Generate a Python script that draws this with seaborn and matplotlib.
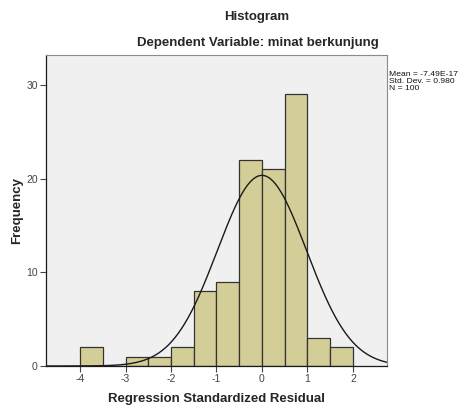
import numpy as np
import pandas as pd
import matplotlib
matplotlib.use('Agg')
import matplotlib.pyplot as plt
import seaborn as sns

# histogram counts (bin width 0.5)
bin_edges = [-4.0, -3.5, -3.0, -2.5, -2.0, -1.5, -1.0, -0.5, 0.0, 0.5, 1.0, 1.5, 2.0]
counts = [2, 0, 1, 1, 2, 8, 9, 22, 21, 29, 3, 2]
x_ticks = [-4, -3, -2, -1, 0, 1, 2]
y_ticks = [0, 10, 20, 30]
mean_val = -7.49e-17
std_val = 0.980
n_obs = 100

sns.set_theme(style='white')
plt.rcParams['font.family'] = ['Liberation Sans', 'DejaVu Sans']

df = pd.DataFrame({
    'mid': [(a + b) / 2 for a, b in zip(bin_edges[:-1], bin_edges[1:])],
    'n': counts,
})

fig = plt.figure(figsize=(4.59, 4.05), dpi=100)
ax = fig.add_axes([0.1002, 0.0963, 0.7429, 0.7677])
ax.set_facecolor('#F0F0F0')

sns.histplot(data=df, x='mid', weights='n', bins=bin_edges, ax=ax,
             color='#D3CE97', alpha=1, edgecolor='#333333', linewidth=0.9)

# normal curve scaled to counts
xs = np.linspace(-4.75, 2.75, 300)
width = 0.5
ys = n_obs * width * np.exp(-0.5 * ((xs - mean_val) / std_val) ** 2) / (std_val * np.sqrt(2 * np.pi))
sns.lineplot(x=xs, y=ys, ax=ax, color='#1a1a1a', linewidth=1.0)

ax.set_xlim(-4.75, 2.75)
ax.set_ylim(0, 33.2)
ax.set_xticks(x_ticks)
ax.set_xticklabels([str(t) for t in x_ticks])
ax.set_yticks(y_ticks)
ax.tick_params(axis='both', direction='out', length=4, width=0.8, colors='#444444',
               labelsize=7.5, pad=2, bottom=True, left=True)

for side in ['top', 'right']:
    ax.spines[side].set_color('#8a8a8a')
    ax.spines[side].set_linewidth(0.8)
for side in ['left', 'bottom']:
    ax.spines[side].set_color('#1a1a1a')
    ax.spines[side].set_linewidth(0.9)

ax.set_xlabel('Regression Standardized Residual', fontsize=9.5, fontweight='bold', labelpad=6)
ax.set_ylabel('Frequency', fontsize=9.5, fontweight='bold', labelpad=2)

fig.text(0.56, 1 - 17 / 405, 'Histogram', ha='center', va='center', fontsize=9.5, fontweight='bold')
fig.text(0.561, 1 - 43 / 405, 'Dependent Variable: minat berkunjung', ha='center', va='center',
         fontsize=9.5, fontweight='bold')

# stats box text, shrunk a bit so it stays inside the figure
stats = 'Mean = -7.49E-17\nStd. Dev. = 0.980\nN = 100'
fig.text(389 / 459, 1 - 71 / 405, stats, ha='left', va='top', fontsize=6.1,
         linespacing=1.05, color='#111111')

fig.savefig('out.png', dpi=100)
